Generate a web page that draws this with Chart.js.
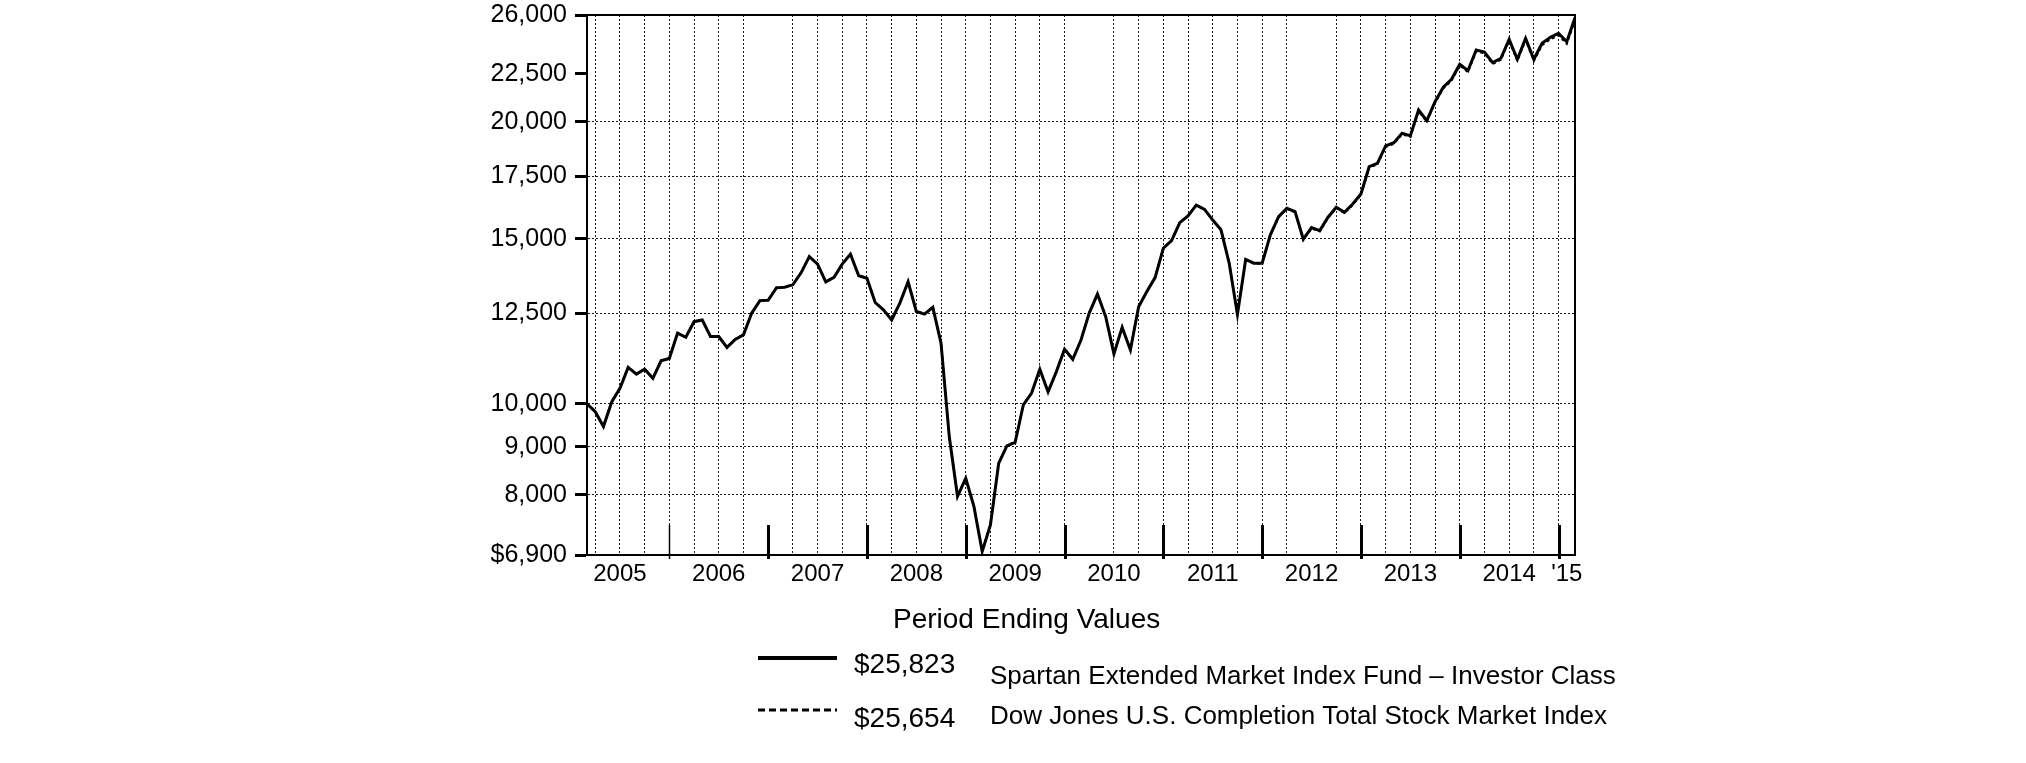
<!DOCTYPE html>
<html>
<head>
<meta charset="utf-8">
<script src="https://cdn.jsdelivr.net/npm/chart.js@4.4.1/dist/chart.umd.min.js"></script>
<style>
  html, body { margin: 0; padding: 0; background: #fff; }
  #wrap { width: 2026px; height: 763px; }
</style>
</head>
<body>
<div id="wrap"><canvas id="growthChart" width="2026" height="763"></canvas></div>
<script>
// Hypothetical $10,000 growth, month-end values, Feb 2005 .. Feb 2015 (month 0 .. 120)
const fundValues = [
  10000, 9810, 9460, 10050, 10390, 10940, 10760, 10890, 10650, 11120,
  11180, 11900, 11780, 12240, 12290, 11800, 11800, 11490, 11720, 11850,
  12500, 12890, 12900, 13300, 13320, 13400, 13800, 14360, 14100, 13500,
  13650, 14100, 14450, 13700, 13620, 12830, 12600, 12290, 12810, 13500,
  12550, 12470, 12680, 11610, 9230, 7970, 8330, 7770, 6960, 7430,
  8640, 9020, 9100, 9980, 10270, 10890, 10300, 10820, 11440, 11160,
  11700, 12500, 13100, 12390, 11310, 12070, 11420, 12700, 13180, 13640,
  14660, 14940, 15610, 15870, 16300, 16130, 15710, 15340, 14130, 12460,
  14260, 14130, 14130, 15150, 15840, 16170, 16040, 14990, 15420, 15310,
  15820, 16210, 16010, 16340, 16750, 17910, 18060, 18850, 19000, 19450,
  19320, 20590, 20060, 21010, 21770, 22200, 23040, 22680, 23860, 23740,
  23130, 23380, 24490, 23320, 24550, 23320, 24250, 24610, 24860, 24350,
  25823
];

const indexValues = [
  10000, 9820, 9470, 10060, 10400, 10950, 10770, 10900, 10660, 11130,
  11190, 11910, 11790, 12250, 12300, 11810, 11810, 11500, 11730, 11860,
  12510, 12900, 12910, 13310, 13330, 13410, 13810, 14370, 14110, 13510,
  13660, 14110, 14460, 13710, 13630, 12840, 12610, 12300, 12820, 13510,
  12560, 12480, 12690, 11620, 9240, 7980, 8340, 7780, 6970, 7440,
  8650, 9030, 9110, 9990, 10280, 10900, 10310, 10830, 11450, 11170,
  11710, 12510, 13110, 12400, 11320, 12080, 11430, 12710, 13190, 13650,
  14670, 14950, 15620, 15880, 16310, 16140, 15720, 15350, 14140, 12470,
  14250, 14120, 14110, 15130, 15820, 16150, 16010, 14960, 15390, 15280,
  15790, 16180, 15980, 16300, 16710, 17870, 18010, 18800, 18950, 19400,
  19270, 20530, 20000, 20950, 21700, 22130, 22960, 22600, 23780, 23660,
  23050, 23290, 24400, 23230, 24450, 23220, 24140, 24490, 24730, 24220,
  25654
];

// x axis: months since Feb 2005
const labelMonths = [4, 16, 28, 40, 52, 64, 76, 88, 100, 112, 119];
const yearLabels = ['2005', '2006', '2007', '2008', '2009', '2010', '2011', '2012', '2013', '2014', "'15"];
const gridMonths = [1, 4, 7, 10, 13, 16, 19, 25, 28, 31, 34, 37, 40, 43, 46, 49, 52, 55, 58,
  64, 67, 70, 73, 76, 79, 82, 85, 91, 94, 97, 100, 103, 106, 109, 112, 115, 118];
const yearEnds = [10, 22, 34, 46, 58, 70, 82, 94, 106, 118];

// y axis
const yTicks = [6900, 8000, 9000, 10000, 12500, 15000, 17500, 20000, 22500, 26000];
const yGridValues = [8000, 9000, 10000, 12500, 15000, 17500, 20000];

const legendTitle = 'Period Ending Values';
const endingValues = ['$25,823', '$25,654'];
const seriesNames = [
  'Spartan Extended Market Index Fund \u2013 Investor Class',
  'Dow Jones U.S. Completion Total Stock Market Index'
];

const FONT = '"Liberation Sans", Arial, Helvetica, sans-serif';

function toPoints(values) {
  return values.map((v, i) => ({ x: i, y: v }));
}

const xTickValues = Array.from(new Set(gridMonths.concat(labelMonths))).sort((a, b) => a - b);

function noOverflow(axis) {
  axis.paddingTop = 0;
  axis.paddingBottom = 0;
  axis.paddingLeft = 0;
  axis.paddingRight = 0;
}

const framePlugin = {
  id: 'frame',
  afterDraw(chart) {
    const ctx = chart.ctx;
    const area = chart.chartArea;
    const xs = chart.scales.x;

    ctx.save();
    // plot box
    ctx.strokeStyle = '#000';
    ctx.lineWidth = 2;
    ctx.setLineDash([]);
    ctx.strokeRect(area.left, area.top, area.right - area.left, area.bottom - area.top);

    // year separators
    yearEnds.forEach((m, k) => {
      const px = Math.round(xs.getPixelForValue(m)) + 0.5;
      ctx.lineWidth = k === 0 ? 1.5 : 3;
      ctx.beginPath();
      ctx.moveTo(px, area.bottom - 30);
      ctx.lineTo(px, area.bottom + 4);
      ctx.stroke();
    });

    // legend block
    ctx.fillStyle = '#000';
    ctx.textBaseline = 'alphabetic';
    ctx.textAlign = 'left';
    ctx.font = '28px ' + FONT;
    ctx.fillText(legendTitle, 893, 628);

    ctx.lineWidth = 4;
    ctx.beginPath();
    ctx.moveTo(758, 658);
    ctx.lineTo(837, 658);
    ctx.stroke();

    ctx.lineWidth = 3;
    ctx.setLineDash([7, 4]);
    ctx.beginPath();
    ctx.moveTo(758, 710);
    ctx.lineTo(837, 710);
    ctx.stroke();
    ctx.setLineDash([]);

    ctx.font = '28px ' + FONT;
    ctx.fillText(endingValues[0], 854, 673);
    ctx.fillText(endingValues[1], 854, 727);

    ctx.font = '26px ' + FONT;
    ctx.fillText(seriesNames[0], 990, 684);
    ctx.fillText(seriesNames[1], 990, 724);
    ctx.restore();
  }
};

function initChart() {
  const ctx = document.getElementById('growthChart').getContext('2d');
  new Chart(ctx, {
    type: 'line',
    data: {
      datasets: [
        {
          label: seriesNames[1],
          data: toPoints(indexValues),
          borderColor: '#000',
          borderWidth: 2,
          borderDash: [3, 3],
          pointRadius: 0,
          tension: 0,
          fill: false
        },
        {
          label: seriesNames[0],
          data: toPoints(fundValues),
          borderColor: '#000',
          borderWidth: 3,
          pointRadius: 0,
          tension: 0,
          fill: false
        }
      ]
    },
    options: {
      responsive: false,
      animation: false,
      layout: { padding: { left: 0, right: 451, top: 15, bottom: 0 } },
      plugins: {
        legend: { display: false },
        tooltip: { enabled: false }
      },
      scales: {
        x: {
          type: 'linear',
          min: 0,
          max: 120,
          afterBuildTicks: axis => {
            axis.ticks = xTickValues.map(v => ({ value: v }));
          },
          afterFit: axis => { axis.height = 208; noOverflow(axis); },
          ticks: {
            autoSkip: false,
            maxRotation: 0,
            padding: 5,
            color: '#000',
            font: { family: FONT, size: 24 },
            callback: value => {
              const k = labelMonths.indexOf(value);
              return k >= 0 ? yearLabels[k] : '';
            }
          },
          grid: {
            drawTicks: false,
            lineWidth: 1,
            color: c => (c.tick && gridMonths.includes(c.tick.value)) ? '#1a1a1a' : 'rgba(0,0,0,0)'
          },
          border: { display: true, color: '#000', width: 2, dash: [2, 2] }
        },
        y: {
          type: 'logarithmic',
          min: 6900,
          max: 26000,
          afterBuildTicks: axis => {
            axis.ticks = yTicks.map(v => ({ value: v }));
          },
          afterFit: axis => { axis.width = 587; noOverflow(axis); },
          ticks: {
            padding: 8,
            color: '#000',
            font: { family: FONT, size: 25 },
            callback: value => (value === 6900 ? '$' : '') + Number(value).toLocaleString('en-US')
          },
          grid: {
            drawTicks: true,
            tickLength: 12,
            tickWidth: 3,
            tickColor: '#000',
            tickBorderDash: [],
            lineWidth: 1,
            color: c => (c.tick && yGridValues.includes(c.tick.value)) ? '#1a1a1a' : 'rgba(0,0,0,0)'
          },
          border: { display: true, color: '#000', width: 2, dash: [2, 2] }
        }
      }
    },
    plugins: [framePlugin]
  });
}

document.addEventListener('DOMContentLoaded', initChart);
</script>
</body>
</html>
